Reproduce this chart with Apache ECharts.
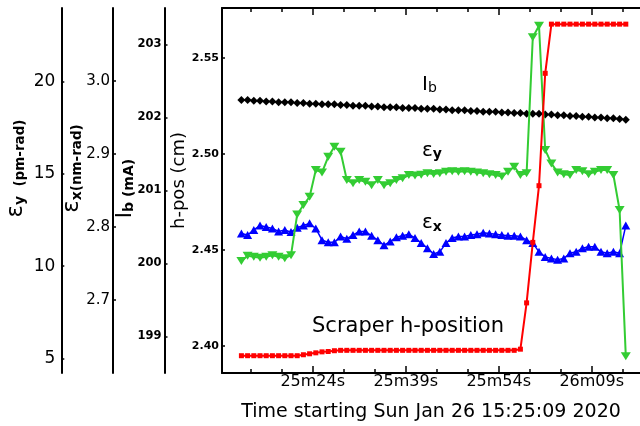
<!DOCTYPE html>
<html><head><meta charset="utf-8">
<script src="https://cdn.jsdelivr.net/npm/echarts@6/dist/echarts.min.js"></script>
<style>html,body{margin:0;padding:0;background:#fff}#c{width:640px;height:426px}</style>
</head><body><div id="c"></div>
<script>
// seconds after 15:25:09
const timeSec = [3.5,4.5,5.5,6.5,7.5,8.5,9.5,10.5,11.5,12.5,13.5,14.5,15.5,16.5,17.5,18.5,19.5,20.5,21.5,22.5,23.5,24.5,25.5,26.5,27.5,28.5,29.5,30.5,31.5,32.5,33.5,34.5,35.5,36.5,37.5,38.5,39.5,40.5,41.5,42.5,43.5,44.5,45.5,46.5,47.5,48.5,49.5,50.5,51.5,52.5,53.5,54.5,55.5,56.5,57.5,58.5,59.5,60.5,61.5,62.5,63.5,64.5,65.5];
const hPos = [2.395,2.395,2.395,2.395,2.395,2.395,2.395,2.395,2.395,2.395,2.3955,2.396,2.3965,2.397,2.3972,2.3976,2.3978,2.3978,2.3978,2.3978,2.3978,2.3978,2.3978,2.3978,2.3978,2.3978,2.3978,2.3978,2.3978,2.3978,2.3978,2.3978,2.3978,2.3978,2.3978,2.3978,2.3978,2.3978,2.3978,2.3978,2.3978,2.3978,2.3978,2.3978,2.3978,2.3984,2.4225,2.454,2.4835,2.542,2.5676,2.5676,2.5676,2.5676,2.5676,2.5676,2.5676,2.5676,2.5676,2.5676,2.5676,2.5676,2.5676];
const ib = [202.24,202.24,202.23,202.23,202.22,202.22,202.21,202.21,202.21,202.20,202.20,202.19,202.19,202.18,202.18,202.18,202.17,202.17,202.16,202.16,202.16,202.15,202.15,202.14,202.14,202.14,202.13,202.13,202.13,202.12,202.12,202.12,202.11,202.11,202.10,202.10,202.10,202.09,202.09,202.08,202.08,202.08,202.07,202.07,202.06,202.06,202.05,202.05,202.05,202.04,202.04,202.03,202.03,202.02,202.02,202.01,202.01,202.00,202.00,201.99,201.99,201.98,201.97];
const epsY = [10.27,10.56,10.50,10.45,10.50,10.59,10.50,10.42,10.59,12.80,13.31,13.76,15.21,15.08,15.93,16.47,16.20,14.67,14.49,14.67,14.57,14.39,14.67,14.39,14.49,14.67,14.76,14.94,14.91,14.96,15.03,14.99,15.03,15.12,15.15,15.12,15.15,15.12,15.08,15.03,14.98,14.94,14.86,15.12,15.39,14.94,15.03,22.41,23.04,16.30,15.57,15.08,14.98,14.94,15.21,15.15,14.98,15.12,15.21,15.21,14.94,13.04,5.11];
const epsX = [2.791,2.789,2.796,2.802,2.800,2.798,2.794,2.796,2.793,2.799,2.802,2.805,2.798,2.782,2.779,2.779,2.787,2.784,2.789,2.794,2.794,2.788,2.782,2.775,2.780,2.786,2.788,2.790,2.785,2.778,2.771,2.763,2.766,2.778,2.785,2.787,2.787,2.789,2.790,2.792,2.791,2.790,2.789,2.788,2.788,2.787,2.782,2.778,2.766,2.759,2.757,2.755,2.757,2.764,2.766,2.771,2.773,2.773,2.766,2.764,2.766,2.764,2.802];

const xMajorTicks = [15,30,45,60];
const xTickLabels = ['25m24s','25m39s','25m54s','26m09s'];
const xMinorTicks = [5,10,20,25,35,40,50,55,65];
const hPosTicks = [2.40,2.45,2.50,2.55];
const ibTicks = [199,200,201,202,203];
const epsXTicks = [2.7,2.8,2.9,3.0];
const epsYTicks = [5,10,15,20];
const xTitle = 'Time starting Sun Jan 26 15:25:09 2020';

const FF = 'DejaVu Sans';
const X_MIN = 0.37, X_MAX = 67.79;

function xAx(pos, ticks, len, showLine, showLabel){
  return {
    type:'value', position:pos, min:X_MIN, max:X_MAX,
    axisLine:{show:showLine, onZero:false, lineStyle:{color:'#000', width:2}},
    axisTick:{show:true, inside:true, length:len, customValues:ticks, lineStyle:{color:'#000', width:1.5}},
    axisLabel:{show:showLabel, customValues:ticks, margin:1, fontSize:16, fontFamily:FF, color:'#000',
      formatter:function(v){ const k = xMajorTicks.indexOf(Math.round(v)); return k>=0 ? xTickLabels[k] : ''; }},
    splitLine:{show:false}
  };
}
function yAx(o){
  return {
    type:'value', position:'left', offset:o.offset, min:o.min, max:o.max,
    axisLine:{show:true, onZero:false, lineStyle:{color:'#000', width:2}},
    axisTick:{show:true, inside:true, length:3, customValues:o.ticks, lineStyle:{color:'#000', width:1.5}},
    axisLabel:{customValues:o.ticks, formatter:o.fmt, margin:o.margin, padding:[0,0,6,0],
      fontSize:o.fs, fontWeight:o.fw, fontFamily:FF, color:'#000'},
    splitLine:{show:false},
    name:o.name, nameLocation:'middle', nameRotate:90, nameGap:o.gap, nameMoveOverlap:false,
    nameTextStyle:Object.assign({fontFamily:FF, color:'#000', padding:o.npad, rich:o.rich}, o.nts || {})
  };
}
function nameRich(mainSize, subSize, unitSize, subDrop){
  return {m:{fontSize:mainSize, fontFamily:FF, verticalAlign:'bottom'},
          s:{fontSize:subSize, fontWeight:'bold', fontFamily:FF, verticalAlign:'bottom', padding:[subDrop,0,0,0]},
          t:{fontSize:unitSize, fontWeight:'bold', fontFamily:FF, verticalAlign:'bottom'}};
}

const xAxes = [
  Object.assign(xAx('bottom', xMajorTicks, 7, true, true), {name:xTitle, nameLocation:'middle', nameGap:30, nameMoveOverlap:false,
    nameTextStyle:{fontSize:19, fontFamily:FF, color:'#000'}}),
  xAx('bottom', xMinorTicks, 4, false, false),
  xAx('top', xMajorTicks, 7, true, false),
  xAx('top', xMinorTicks, 4, false, false)
];

const yAxes = [
  yAx({offset:0, min:2.386, max:2.576, ticks:hPosTicks, fmt:v=>v.toFixed(2), margin:3, fs:11, fw:'bold',
       name:'h-pos (cm)', gap:34, npad:[0,0,0,20], rich:{}, nts:{fontSize:18}}),
  yAx({offset:57.5, min:198.5, max:203.5, ticks:ibTicks, fmt:v=>String(Math.round(v)), margin:3, fs:11.5, fw:'bold',
       name:'{m|I}{s|b}{t| (mA)}', gap:28, npad:[0,0,0,4], rich:nameRich(21,14,14,6)}),
  yAx({offset:109, min:2.6, max:3.1, ticks:epsXTicks, fmt:v=>v.toFixed(1), margin:3, fs:15, fw:'normal',
       name:'{m|ε}{s|x}{t|(nm-rad)}', gap:29, npad:[0,0,0,44], rich:nameRich(23,14,13.5,6)}),
  yAx({offset:160.7, min:4.2, max:24.0, ticks:epsYTicks, fmt:v=>String(Math.round(v)), margin:6, fs:17, fw:'normal',
       name:'{m|ε}{s|y}{t|  (pm-rad)}', gap:34, npad:[0,0,0,44], rich:nameRich(23,14,13.5,6)})
];

function pts(vals){ return timeSec.map((t,i)=>[t, vals[i]]); }

const chart = echarts.init(document.getElementById('c'), null, {renderer:'canvas'});
chart.setOption({
  animation:false,
  backgroundColor:'#fff',
  grid:{left:222, top:8, right:0, bottom:53, containLabel:false, outerBoundsMode:'none'},
  xAxis:xAxes,
  yAxis:yAxes,
  series:[
    {type:'line', name:'Ib', xAxisIndex:0, yAxisIndex:1, data:pts(ib), symbol:'diamond', symbolSize:[8,8],
     lineStyle:{color:'#000', width:1}, itemStyle:{color:'#000'}, z:2},
    {type:'line', name:'eps_x', xAxisIndex:0, yAxisIndex:2, data:pts(epsX), symbol:'triangle', symbolSize:[9,8],
     lineStyle:{color:'#0000ff', width:1.5}, itemStyle:{color:'#0000ff'}, z:3},
    {type:'line', name:'eps_y', xAxisIndex:0, yAxisIndex:3, data:pts(epsY), symbol:'triangle', symbolRotate:180, symbolSize:[10,8],
     lineStyle:{color:'#33cc33', width:2}, itemStyle:{color:'#33cc33'}, z:4},
    {type:'line', name:'h-pos', xAxisIndex:0, yAxisIndex:0, data:pts(hPos), symbol:'rect', symbolSize:[5,5],
     lineStyle:{color:'#ff0000', width:2}, itemStyle:{color:'#ff0000'}, z:5}
  ],
  graphic:[
    {type:'text', left:422, top:75, z:10, style:{text:'{m|I}{s|b}', fill:'#000',
      rich:{m:{fontSize:20, fontFamily:FF, verticalAlign:'bottom'}, s:{fontSize:14, fontFamily:FF, verticalAlign:'bottom'}}}},
    {type:'text', left:422, top:141, z:10, style:{text:'{m|ε}{s|y}', fill:'#000',
      rich:{m:{fontSize:20, fontFamily:FF, verticalAlign:'top'}, s:{fontSize:14, fontWeight:'bold', fontFamily:FF, verticalAlign:'top', padding:[6,0,0,0]}}}},
    {type:'text', left:422, top:213, z:10, style:{text:'{m|ε}{s|x}', fill:'#000',
      rich:{m:{fontSize:20, fontFamily:FF, verticalAlign:'top'}, s:{fontSize:14, fontWeight:'bold', fontFamily:FF, verticalAlign:'top', padding:[7,0,0,0]}}}},
    {type:'text', left:312, top:316, z:10, style:{text:'Scraper h-position', fill:'#000', fontSize:21, fontFamily:FF}}
  ]
});
</script></body></html>
